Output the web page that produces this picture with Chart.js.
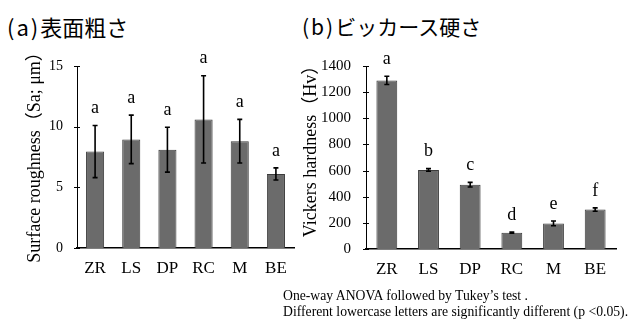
<!DOCTYPE html>
<html>
<head>
<meta charset="utf-8">
<script src="https://cdn.jsdelivr.net/npm/chart.js@4.4.1/dist/chart.umd.min.js"></script>
<style>
  html, body { margin: 0; padding: 0; background: #fff; }
  body { width: 633px; height: 322px; position: relative; overflow: hidden; }
  .title { position: absolute; font-family: "Noto Sans CJK JP", "Noto Sans", sans-serif; font-size: 21px; line-height: 22px; color: #000; white-space: nowrap; }
  .title .p { letter-spacing: 2px; }
  .note { position: absolute; left: 283px; top: 288px; font-family: "Liberation Serif", "DejaVu Serif", serif; font-size: 13.7px; line-height: 16px; color: #000; white-space: nowrap; }
  #wrapA { position: absolute; left: 0; top: 0; width: 300px; height: 322px; }
  #wrapB { position: absolute; left: 300px; top: 0; width: 333px; height: 322px; }
</style>
</head>
<body>
<div class="title" style="left:7px; top:15px; font-size:22px;"><span class="p">(a)</span>表面粗さ</div>
<div class="title" style="left:302px; top:15px;"><span class="p">(b)</span>ビッカース硬さ</div>
<div id="wrapA"><canvas id="chartA" width="300" height="322"></canvas></div>
<div id="wrapB"><canvas id="chartB" width="333" height="322"></canvas></div>
<div class="note">One-way ANOVA followed by Tukey’s test .<br>Different lowercase letters are significantly different (p &lt;0.05).</div>
<script>
const categories = ['ZR', 'LS', 'DP', 'RC', 'M', 'BE'];

const roughness = [7.95, 8.95, 8.1, 10.6, 8.8, 6.1];
const roughnessSD = [2.15, 2.0, 1.85, 3.6, 1.8, 0.5];
const roughnessLetters = ['a', 'a', 'a', 'a', 'a', 'a'];
const roughnessTicks = [0, 5, 10, 15];

const hardness = [1290, 605, 492, 125, 196, 302];
const hardnessSD = [32, 10, 18, 5, 18, 13];
const hardnessLetters = ['a', 'b', 'c', 'd', 'e', 'f'];
const hardnessTicks = [0, 200, 400, 600, 800, 1000, 1200, 1400];

const SERIF = '"Liberation Serif", "Times New Roman", "DejaVu Serif", serif';

function makeChart(id, opts) {
  const extras = {
    id: 'extras_' + id,
    afterDatasetsDraw(chart) {
      const ctx = chart.ctx;
      const meta = chart.getDatasetMeta(0);
      const y = chart.scales.y;
      ctx.save();
      ctx.strokeStyle = '#000';
      ctx.lineWidth = 1.6;
      meta.data.forEach((bar, i) => {
        const v = opts.values[i], sd = opts.sd[i];
        const yTop = y.getPixelForValue(v + sd);
        const yBot = y.getPixelForValue(v - sd);
        const x = bar.x;
        ctx.beginPath();
        ctx.moveTo(x, yTop); ctx.lineTo(x, yBot);
        ctx.moveTo(x - 2.5, yTop); ctx.lineTo(x + 2.5, yTop);
        ctx.moveTo(x - 2.5, yBot); ctx.lineTo(x + 2.5, yBot);
        ctx.stroke();
        ctx.fillStyle = '#000';
        ctx.font = '18px ' + SERIF;
        ctx.textAlign = 'center';
        ctx.textBaseline = 'middle';
        ctx.fillText(opts.letters[i], x, yTop - 17);
      });
      ctx.lineWidth = 1;
      const ax = chart.chartArea.left;
      opts.ticks.forEach(t => {
        const py = Math.round(y.getPixelForValue(t)) + 0.5;
        ctx.beginPath();
        ctx.moveTo(ax - 3, py); ctx.lineTo(ax + 3, py);
        ctx.stroke();
      });
      ctx.translate(opts.titleX, opts.titleY);
      ctx.rotate(-Math.PI / 2);
      ctx.font = '18px ' + SERIF + ', "Noto Sans CJK JP"';
      ctx.textAlign = 'center';
      ctx.textBaseline = 'middle';
      ctx.fillText(opts.yTitle, 0, 0);
      ctx.restore();
    }
  };

  return new Chart(document.getElementById(id), {
    type: 'bar',
    data: {
      labels: categories,
      datasets: [{
        data: opts.values,
        backgroundColor: '#6b6b6b',
        borderColor: '#3c3c3c',
        borderWidth: 1,
        categoryPercentage: 1.0,
        barPercentage: 0.5
      }]
    },
    options: {
      responsive: false,
      animation: false,
      devicePixelRatio: 1,
      layout: { padding: opts.padding },
      plugins: { legend: { display: false }, tooltip: { enabled: false }, title: { display: false } },
      scales: {
        x: {
          offset: true,
          grid: { display: false, drawTicks: false },
          border: { display: true, color: '#000', width: 1.5 },
          ticks: { color: '#000', font: { family: SERIF, size: 17 }, padding: 10 },
          afterFit(scale) { scale.height = 40; }
        },
        y: {
          min: 0,
          max: opts.max,
          grid: { display: false, drawTicks: false },
          border: { display: true, color: '#000', width: 1 },
          ticks: {
            stepSize: opts.step,
            color: '#000',
            font: { family: SERIF, size: opts.tickSize },
            padding: opts.tickPad,
            callback: (v) => String(v)
          },
          afterFit(scale) { scale.width = opts.axisLeft; }
        }
      }
    },
    plugins: [extras]
  });
}

makeChart('chartA', {
  values: roughness, sd: roughnessSD, letters: roughnessLetters, ticks: roughnessTicks,
  max: 15, step: 5, tickSize: 14, tickPad: 14, axisLeft: 77,
  padding: { left: 0, right: 6, top: 66, bottom: 34 },
  yTitle: 'Surface roughness（Sa; μm）', titleX: 35, titleY: 153
});

makeChart('chartB', {
  values: hardness, sd: hardnessSD, letters: hardnessLetters, ticks: hardnessTicks,
  max: 1400, step: 200, tickSize: 15, tickPad: 15, axisLeft: 66,
  padding: { left: 0, right: 17, top: 66, bottom: 33 },
  yTitle: 'Vickers hardness（Hv）', titleX: 11, titleY: 147
});
</script>
</body>
</html>
